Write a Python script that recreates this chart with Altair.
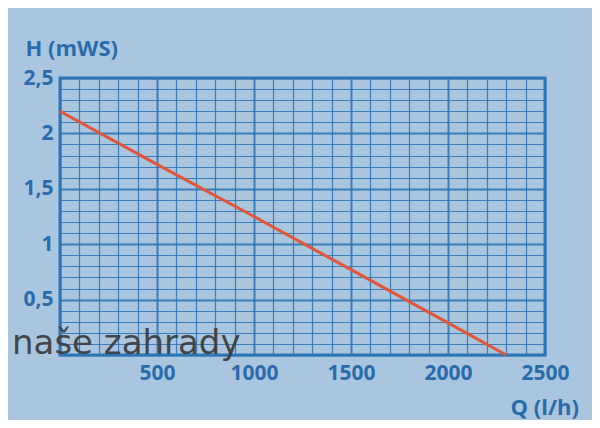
import altair as alt
import pandas as pd

# Pump curve
q_values = [0, 500, 1000, 1500, 2000, 2300]
h_values = [2.2, 1.72, 1.25, 0.77, 0.29, 0.0]

x_grid = list(range(0, 2501, 100))
y_grid = [round(i * 0.1, 1) for i in range(0, 26)]

df = pd.DataFrame({"Q": q_values, "H": h_values})

BG = "#a9c6de"
GRID = "#2f76b6"
LABEL = "#2a6cab"
RED = "#e2553a"

x_axis = alt.Axis(
    values=x_grid,
    labelExpr="datum.value % 500 === 0 && datum.value > 0 ? datum.label : ''",
    format="d",
    grid=True,
    gridColor=GRID,
    gridWidth={"condition": {"test": "datum.value % 500 === 0", "value": 2.0}, "value": 1.2},
    gridOpacity=0.9,
    ticks=False,
    domain=False,
    labelFont="Open Sans",
    labelFontSize=21,
    labelFontWeight="bold",
    labelColor=LABEL,
    labelPadding=7,
    labelFlush=False,
    labelOverlap=False,
    title="Q (l/h)",
    titleFont="Open Sans",
    titleFontSize=22,
    titleFontWeight="bold",
    titleColor=LABEL,
    titleAngle=0,
    titleAlign="left",
    titleBaseline="middle",
    titleX=450,
    titleY=52,
)

y_axis = alt.Axis(
    values=y_grid,
    labelExpr="abs(datum.value*2 - round(datum.value*2)) < 0.001 && datum.value > 0 ? replace(format(datum.value, '.2~f'), '.', ',') : ''",
    grid=True,
    gridColor=GRID,
    gridWidth={"condition": {"test": "abs(datum.value*2 - round(datum.value*2)) < 0.001", "value": 2.0}, "value": 1.2},
    gridOpacity=0.9,
    ticks=False,
    domain=False,
    labelFont="Open Sans",
    labelFontSize=21,
    labelFontWeight="bold",
    labelColor=LABEL,
    labelPadding=7,
    labelFlush=False,
    labelOverlap=False,
    title="H (mWS)",
    titleFont="Open Sans",
    titleFontSize=22,
    titleFontWeight="bold",
    titleColor=LABEL,
    titleAngle=0,
    titleAlign="left",
    titleBaseline="middle",
    titleX=-35,
    titleY=-30,
)

line = alt.Chart(df).mark_line(color=RED, strokeWidth=3).encode(
    x=alt.X("Q:Q", scale=alt.Scale(domain=[0, 2500], nice=False), axis=x_axis),
    y=alt.Y("H:Q", scale=alt.Scale(domain=[0, 2.5], nice=False), axis=y_axis),
)

watermark = alt.Chart(pd.DataFrame({"t": ["naše zahrady"]})).mark_text(
    font="DejaVu Sans",
    fontSize=34,
    color="#3a3b3d",
    opacity=0.92,
    align="left",
    baseline="alphabetic",
).encode(
    text="t:N",
    x=alt.value(-48),
    y=alt.value(276),
)

chart = (
    alt.layer(line, watermark)
    .properties(
        width=485,
        height=277,
        autosize=alt.AutoSizeParams(type="none"),
        padding={"left": 52, "top": 70, "right": 47, "bottom": 65},
        background=BG,
    )
    .configure_view(stroke=GRID, strokeWidth=3, fill=BG)
)

chart.save("out.html", embed_options={"renderer": "svg", "actions": False})
